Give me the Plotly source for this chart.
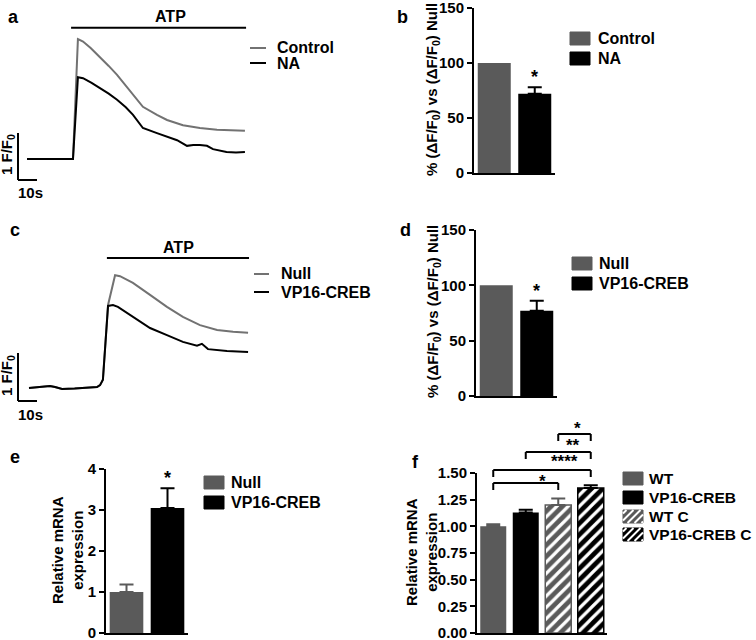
import plotly.graph_objects as go

W, H = 756, 640
FONT = "Liberation Sans, Arial, Helvetica, sans-serif"
GREY_LINE = "#727272"
GREY_BAR = "#5a5a5a"
BLACK = "#000000"

# ---------------- data ----------------
# panel a : Ca2+ traces (time in s, F/F0)
a_time_control = [0, 8, 16, 24.2, 26.8, 29.5, 33.5, 38.4, 43, 47.4, 51.5, 55.8, 61, 68.4, 73.7, 82.1, 91, 100, 107, 114.7]
a_control = [1.0, 1.0, 1.0, 1.0, 3.55, 3.50, 3.36, 3.17, 2.98, 2.79, 2.58, 2.38, 2.11, 1.94, 1.83, 1.72, 1.66, 1.62, 1.61, 1.60]
a_time_na = [0, 8, 16, 24.2, 26.8, 29.5, 34, 38.4, 43, 47.4, 52, 55.8, 61, 68.4, 73.7, 79, 84.2, 87.5, 91, 94.7, 97.9, 101, 105, 110, 114.7]
a_na = [1.0, 1.0, 1.0, 1.0, 2.74, 2.72, 2.62, 2.51, 2.39, 2.26, 2.10, 1.94, 1.66, 1.55, 1.47, 1.40, 1.28, 1.30, 1.30, 1.28, 1.21, 1.19, 1.15, 1.14, 1.15]
a_atp = [23.2, 115.3]

# panel c : Ca2+ traces
c_time_null = [0, 11, 13.7, 17.4, 24, 30, 35.8, 37.4, 38.9, 41.6, 45.3, 47.9, 54.7, 63.7, 72.6, 81, 90, 99, 107.4, 115.3]
c_null = [1.0, 1.04, 1.02, 0.98, 0.99, 1.0, 1.02, 1.06, 1.17, 2.73, 3.35, 3.33, 3.19, 2.94, 2.69, 2.48, 2.31, 2.21, 2.17, 2.15]
c_time_vp = [0, 11, 13.7, 17.4, 24, 30, 35.8, 37.4, 38.9, 41.6, 44.2, 46.8, 54.7, 63.7, 72.6, 81, 88.4, 91, 94.2, 104.2, 115.3]
c_vp = [1.0, 1.04, 1.02, 0.98, 0.99, 1.0, 1.02, 1.06, 1.17, 2.71, 2.73, 2.69, 2.48, 2.25, 2.10, 1.96, 1.88, 1.92, 1.81, 1.77, 1.75]
c_atp = [41.0, 115.8]

# scale bars
scale_time = 10      # s
scale_f = 1          # F/F0

# panel b
b_categories = ["Control", "NA"]
b_values = [100, 72]
b_errors = [0, 6]
b_ticks = [0, 50, 100, 150]

# panel d
d_categories = ["Null", "VP16-CREB"]
d_values = [100, 77]
d_errors = [0, 9]
d_ticks = [0, 50, 100, 150]

# panel e
e_categories = ["Null", "VP16-CREB"]
e_values = [1.0, 3.05]
e_errors = [0.18, 0.48]
e_ticks = [0, 1, 2, 3, 4]

# panel f
f_categories = ["WT", "VP16-CREB", "WT C", "VP16-CREB C"]
f_values = [1.0, 1.13, 1.20, 1.36]
f_errors = [0.02, 0.025, 0.06, 0.025]
f_ticks = [0.00, 0.25, 0.50, 0.75, 1.00, 1.25, 1.50]
f_comparisons = [("WT C", "VP16-CREB C", "*"),
                 ("VP16-CREB", "VP16-CREB C", "**"),
                 ("WT", "VP16-CREB C", "****"),
                 ("WT", "WT C", "*")]

# ---------------- helpers ----------------
def X(p):
    return p / W

def Y(p):
    return 1 - p / H

shapes = []
annotations = []

def line(x0, y0, x1, y1, color=BLACK, width=2, xref="paper", yref="paper"):
    shapes.append(dict(type="line", x0=x0, y0=y0, x1=x1, y1=y1, xref=xref, yref=yref,
                       line=dict(color=color, width=width)))

def rect_px(x0, y0, x1, y1, color):
    shapes.append(dict(type="rect", x0=X(x0), x1=X(x1), y0=Y(y1), y1=Y(y0), xref="paper", yref="paper",
                       fillcolor=color, line=dict(color=color, width=1)))

def hatch_px(x0, y0, x1, y1, step=7, color="white", width=2):
    c = x0 + y0 + step / 2
    while c < x1 + y1:
        xs = max(x0, c - y1)
        xe = min(x1, c - y0)
        if xe - xs > 0.5:
            line(X(xs), Y(c - xs), X(xe), Y(c - xe), color=color, width=width)
        c += step

def ann(text, x, y, size=15, angle=0, xanchor="center", yanchor="middle", xref="paper", yref="paper",
        color=BLACK, yshift=0):
    annotations.append(dict(text=text, x=x, y=y, xref=xref, yref=yref, showarrow=False,
                            textangle=angle, xanchor=xanchor, yanchor=yanchor, yshift=yshift,
                            font=dict(family=FONT, size=size, color=color, weight="bold")))

fig = go.Figure()

# ---------------- trace panels (a, c) ----------------
PX_PER_S = 1.9
def trace_axes(xid, yid, x0px, x1px, top, bottom, t0_px, base_px, px_per_unit):
    xr = [(x0px - t0_px) / PX_PER_S, (x1px - t0_px) / PX_PER_S]
    yr = [1 + (base_px - bottom) / px_per_unit, 1 + (base_px - top) / px_per_unit]
    fig.update_layout(**{
        xid: dict(domain=[X(x0px), X(x1px)], range=xr, visible=False, automargin=False,
                  anchor=yid.replace("yaxis", "y")),
        yid: dict(domain=[Y(bottom), Y(top)], range=yr, visible=False, automargin=False,
                  anchor=xid.replace("xaxis", "x")),
    })

trace_axes("xaxis", "yaxis", 0, 260, 0, 200, 27, 159, 47)
trace_axes("xaxis3", "yaxis3", 0, 260, 205, 425, 29, 388, 48)

fig.add_trace(go.Scatter(x=a_time_control, y=a_control, mode="lines", line=dict(color=GREY_LINE, width=2),
                         xaxis="x", yaxis="y", showlegend=False))
fig.add_trace(go.Scatter(x=a_time_na, y=a_na, mode="lines", line=dict(color=BLACK, width=2),
                         xaxis="x", yaxis="y", showlegend=False))
fig.add_trace(go.Scatter(x=c_time_null, y=c_null, mode="lines", line=dict(color=GREY_LINE, width=2),
                         xaxis="x3", yaxis="y3", showlegend=False))
fig.add_trace(go.Scatter(x=c_time_vp, y=c_vp, mode="lines", line=dict(color=BLACK, width=2),
                         xaxis="x3", yaxis="y3", showlegend=False))

# ATP bars
line(a_atp[0], 3.79, a_atp[1], 3.79, width=2, xref="x", yref="y")
ann("ATP", X(170), Y(16), size=16)
line(c_atp[0], 3.708, c_atp[1], 3.708, width=2, xref="x3", yref="y3")
ann("ATP", X(178), Y(247), size=16)

# scale bars
sa_t, sa_f = -4.74, 0.553
line(sa_t, sa_f, sa_t, sa_f + scale_f, xref="x", yref="y")
line(sa_t, sa_f, sa_t + scale_time, sa_f, xref="x", yref="y")
ann("1 F/F<sub>0</sub>", X(7), Y(155), size=15, angle=-90)
ann("10s", X(30), Y(192), size=15)

sc_t, sc_f = -5.79, 0.729
line(sc_t, sc_f, sc_t, sc_f + scale_f, xref="x3", yref="y3")
line(sc_t, sc_f, sc_t + scale_time, sc_f, xref="x3", yref="y3")
ann("1 F/F<sub>0</sub>", X(7), Y(376), size=15, angle=-90)
ann("10s", X(30), Y(414), size=15)

# line legends
line(X(250), Y(48), X(266), Y(48), color=GREY_LINE, width=2)
line(X(250), Y(63), X(266), Y(63), color=BLACK, width=2)
ann("Control", X(275), Y(47), size=16, xanchor="left")
ann("NA", X(275), Y(64), size=16, xanchor="left")
line(X(254), Y(274), X(269), Y(274), color=GREY_LINE, width=2)
line(X(254), Y(292), X(269), Y(292), color=BLACK, width=2)
ann("Null", X(279), Y(273), size=16, xanchor="left")
ann("VP16-CREB", X(279), Y(292), size=16, xanchor="left")

# ---------------- bar panels ----------------
styles = {
    "grey": dict(color=GREY_BAR, pattern=None, err=GREY_BAR),
    "black": dict(color=BLACK, pattern=None, err=BLACK),
    "grey_h": dict(color=GREY_BAR, pattern="/", err=GREY_BAR),
    "black_h": dict(color=BLACK, pattern="/", err=BLACK),
}

def bar_panel(n, cats, vals, errs, style_keys, x0px, x1px, top, bottom, yrange, ticks, tickfmt, width):
    xid, yid = f"x{n}", f"y{n}"
    for cat, v, e, sk in zip(cats, vals, errs, style_keys):
        st = styles[sk]
        marker = dict(color=st["color"], line=dict(color=st["color"], width=1.5 if st["pattern"] else 0))
        if st["pattern"]:
            marker["pattern"] = dict(shape=st["pattern"], fgcolor="white", bgcolor=st["color"],
                                     size=8, solidity=0.4, fillmode="replace")
        kw = {}
        if e > 0:
            kw["error_y"] = dict(type="data", array=[e], arrayminus=[0], symmetric=False,
                                 color=st["err"], thickness=2, width=7)
        fig.add_trace(go.Bar(x=[cat], y=[v], width=[width], marker=marker, xaxis=xid, yaxis=yid,
                             showlegend=False, **kw))
    fig.update_layout(**{
        f"xaxis{n}": dict(domain=[X(x0px), X(x1px)], anchor=yid, type="category",
                          categoryorder="array", categoryarray=cats, automargin=False,
                          range=[-0.5, len(cats) - 0.5], showline=True, linewidth=2, linecolor=BLACK,
                          ticks="", showticklabels=False, showgrid=False, zeroline=False),
        f"yaxis{n}": dict(domain=[Y(bottom), Y(top)], anchor=xid, range=yrange, tickvals=ticks,
                          tickformat=tickfmt, ticks="outside", ticklen=5, tickwidth=2, tickcolor=BLACK,
                          showline=True, linewidth=2, linecolor=BLACK, showgrid=False, zeroline=False,
                          automargin=False, ticklabeloverflow="allow",
                          tickfont=dict(family=FONT, size=15, color=BLACK, weight="bold")),
    })

bar_panel(2, b_categories, b_values, b_errors, ["grey", "black"], 474, 555, 8, 173, [0, 150], b_ticks, "d", 0.815)
bar_panel(4, d_categories, d_values, d_errors, ["grey", "black"], 476, 557, 230, 396, [0, 150], d_ticks, "d", 0.815)
bar_panel(5, e_categories, e_values, e_errors, ["grey", "black"], 106, 188, 469, 633, [0, 4], e_ticks, "d", 0.82)
bar_panel(6, f_categories, f_values, f_errors, ["grey", "black", "grey_h", "black_h"], 477, 607, 473, 633,
          [0, 1.5], f_ticks, ".2f", 0.8)

# asterisks b, d, e
ann("*", 1, 78, size=18, xref="x2", yref="y2", yanchor="bottom", yshift=-2)
ann("*", 1, 86, size=18, xref="x4", yref="y4", yanchor="bottom", yshift=-2)
ann("*", 1, 3.53, size=18, xref="x5", yref="y5", yanchor="bottom", yshift=-2)

# axis titles
ptitle = "% (ΔF/F<sub>0</sub>) vs (ΔF/F<sub>0</sub>) Null"
ann(ptitle, X(432), Y(90), size=15, angle=-90)
ann(ptitle, X(433), Y(312), size=15, angle=-90)
ann("Relative mRNA<br>expression", X(67), Y(550), size=15, angle=-90)
ann("Relative mRNA<br>expression", X(421), Y(552), size=15, angle=-90)

# square legends
def sq_legend(x0, ytops, labels, styles_l, textx, size=16):
    for yt, lab, sk in zip(ytops, labels, styles_l):
        st = styles[sk]
        rect_px(x0, yt, x0 + 20, yt + 13, st["color"])
        if st["pattern"]:
            hatch_px(x0, yt, x0 + 20, yt + 13)
        ann(lab, X(textx), Y(yt + 6.5), size=size, xanchor="left")

sq_legend(570, [32, 52], b_categories, ["grey", "black"], 596)
sq_legend(572, [257, 277], d_categories, ["grey", "black"], 597)
sq_legend(204, [476, 496], e_categories, ["grey", "black"], 229)
sq_legend(623, [472, 491, 510, 528], f_categories, ["grey", "black", "grey_h", "black_h"], 647, size=15.5)

# significance brackets in f
bracket_y_px = [434, 452, 470, 483]
label_pos = [(577, 428), (573, 445), (564, 461), (542, 481)]
for (c1, c2, lab), by, (lx, ly) in zip(f_comparisons, bracket_y_px, label_pos):
    i1, i2 = f_categories.index(c1), f_categories.index(c2)
    line(i1, Y(by), i2, Y(by), xref="x6", yref="paper", width=2)
    line(i1, Y(by), i1, Y(by + 7), xref="x6", yref="paper", width=2)
    line(i2, Y(by), i2, Y(by + 7), xref="x6", yref="paper", width=2)
    ann(lab, X(lx), Y(ly), size=17)

# panel letters
for letter, (lx, ly) in {"a": (13, 17), "b": (403, 17), "c": (15, 230),
                         "d": (405, 230), "e": (15, 457), "f": (415, 462)}.items():
    ann(letter, X(lx), Y(ly), size=18)

fig.update_layout(template="none", width=W, height=H, margin=dict(l=0, r=0, t=0, b=0, pad=0),
                  paper_bgcolor="white", plot_bgcolor="rgba(0,0,0,0)",
                  barmode="overlay", shapes=shapes, annotations=annotations,
                  font=dict(family=FONT, color=BLACK))

post = ("document.documentElement.style.margin='0';document.documentElement.style.padding='0';"
        "document.documentElement.style.overflow='hidden';"
        "document.body.style.margin='0';document.body.style.padding='0';document.body.style.overflow='hidden';"
        "window.scrollTo(0,0);")
fig.write_html("out.html", config={"displayModeBar": False, "responsive": False}, post_script=post)
